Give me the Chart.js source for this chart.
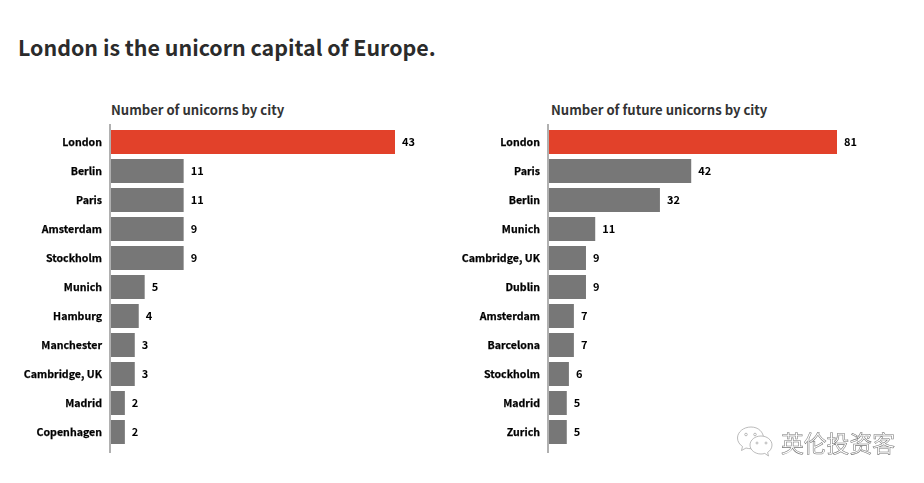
<!DOCTYPE html>
<html><head><meta charset="utf-8">
<script src="https://cdn.jsdelivr.net/npm/chart.js@4"></script>
<style>
html,body{margin:0;padding:0;background:#fff;width:924px;height:483px;overflow:hidden}
#title{position:absolute;left:18px;top:31px;font:700 21.4px "Noto Sans CJK SC";color:#2b2b2b;line-height:32px;white-space:nowrap}
.sub{position:absolute;top:101px;font:700 13.1px "Noto Sans CJK SC";color:#333;line-height:18px;white-space:nowrap}
.box{position:absolute;top:124px;height:329px;width:460px}
#wm{position:absolute;left:781px;top:428px;font:22.8px "Noto Sans CJK SC";color:#fff;-webkit-text-stroke:0.55px #777;line-height:30px;white-space:nowrap}
#ic{position:absolute;left:736px;top:426px}
</style></head><body>
<div id="title">London is the unicorn capital of Europe.</div>
<div class="sub" style="left:111px">Number of unicorns by city</div>
<div class="sub" style="left:551px">Number of future unicorns by city</div>
<div class="box" style="left:0"><canvas id="a" width="460" height="329"></canvas></div>
<div class="box" style="left:440px"><canvas id="b" width="460" height="329"></canvas></div>
<svg id="ic" width="38" height="32" viewBox="0 0 38 32" fill="#fff" stroke="#aaa" stroke-width="0.8">
<path d="M15 1C7.5 1 1.5 6 1.500 12c0 3.500 2 6.500 5 8.500l-1 4 4.500-2.500c1.500.4 3 .7 5 .7 7.500 0 12.500-5 12.500-10.700S22.500 1 15 1z"/>
<path d="M25 10c-6 0-11 4-11 9s5 9 11 9c1.300 0 2.600-.2 3.800-.6l3.700 2.600-.9-3.600c2.700-1.700 4.400-4.300 4.400-7.400 0-5-5-9-11-9z"/>
<circle cx="10" cy="8.500" r="1.300"/><circle cx="19" cy="8.500" r="1.300"/><circle cx="21" cy="17" r="1"/><circle cx="30" cy="17" r="1"/>
</svg>
<div id="wm">英伦投资客</div>
<script>
const citiesLeft=["London","Berlin","Paris","Amsterdam","Stockholm","Munich","Hamburg","Manchester","Cambridge, UK","Madrid","Copenhagen"];
const printedLeft=[43,11,11,9,9,5,4,3,3,2,2];
const lengthsLeft=[43,11,11,11,11,5.1,4.2,3.6,3.6,2.1,2.1];
const citiesRight=["London","Paris","Berlin","Munich","Cambridge, UK","Dublin","Amsterdam","Barcelona","Stockholm","Madrid","Zurich"];
const printedRight=[81,42,32,11,9,9,7,7,6,5,5];
const lengthsRight=[81,40,31.2,13,10.4,10.4,7,7,5.6,5,5];
const FONT='"Noto Sans CJK SC"';
const decor={id:'decor',
 beforeDatasetsDraw(c){const x=c.ctx,l=c.scales.y.right;x.save();x.fillStyle='#b0b0b0';x.fillRect(l-2,0,2,c.height);x.restore();},
 afterDatasetsDraw(c){const x=c.ctx,m=c.getDatasetMeta(0),t=c.options.printed;
 x.save();x.font='700 11px '+FONT;x.fillStyle='#000';x.textBaseline='middle';
 m.data.forEach((b,i)=>x.fillText(t[i],b.x+7,b.y));x.restore();}};
function make(id,labels,data,printed,left,xMax,plotW){
 new Chart(document.getElementById(id),{type:'bar',plugins:[decor],
 data:{labels,datasets:[{data,backgroundColor:data.map((v,i)=>i===0?'#e2412a':'#777777'),categoryPercentage:1,barPercentage:24/29}]},
 options:{printed,responsive:false,animation:false,indexAxis:'y',
  layout:{padding:{left:0,top:3.5,bottom:6.5,right:460-left-plotW}},
  plugins:{legend:{display:false},tooltip:{enabled:false}},
  scales:{x:{display:false,min:0,max:xMax},
   y:{afterFit(s){s.width=left;s.paddingTop=0;s.paddingBottom=0;},grid:{display:false,drawTicks:false},border:{display:false},
    ticks:{color:'#000',textStrokeColor:'#000',textStrokeWidth:0.25,font:{family:FONT,weight:'700',size:10.6},padding:9,autoSkip:false}}}}});
}
make('a',citiesLeft,lengthsLeft,printedLeft,111,43,284);
make('b',citiesRight,lengthsRight,printedRight,109,81,288);
</script></body></html>
